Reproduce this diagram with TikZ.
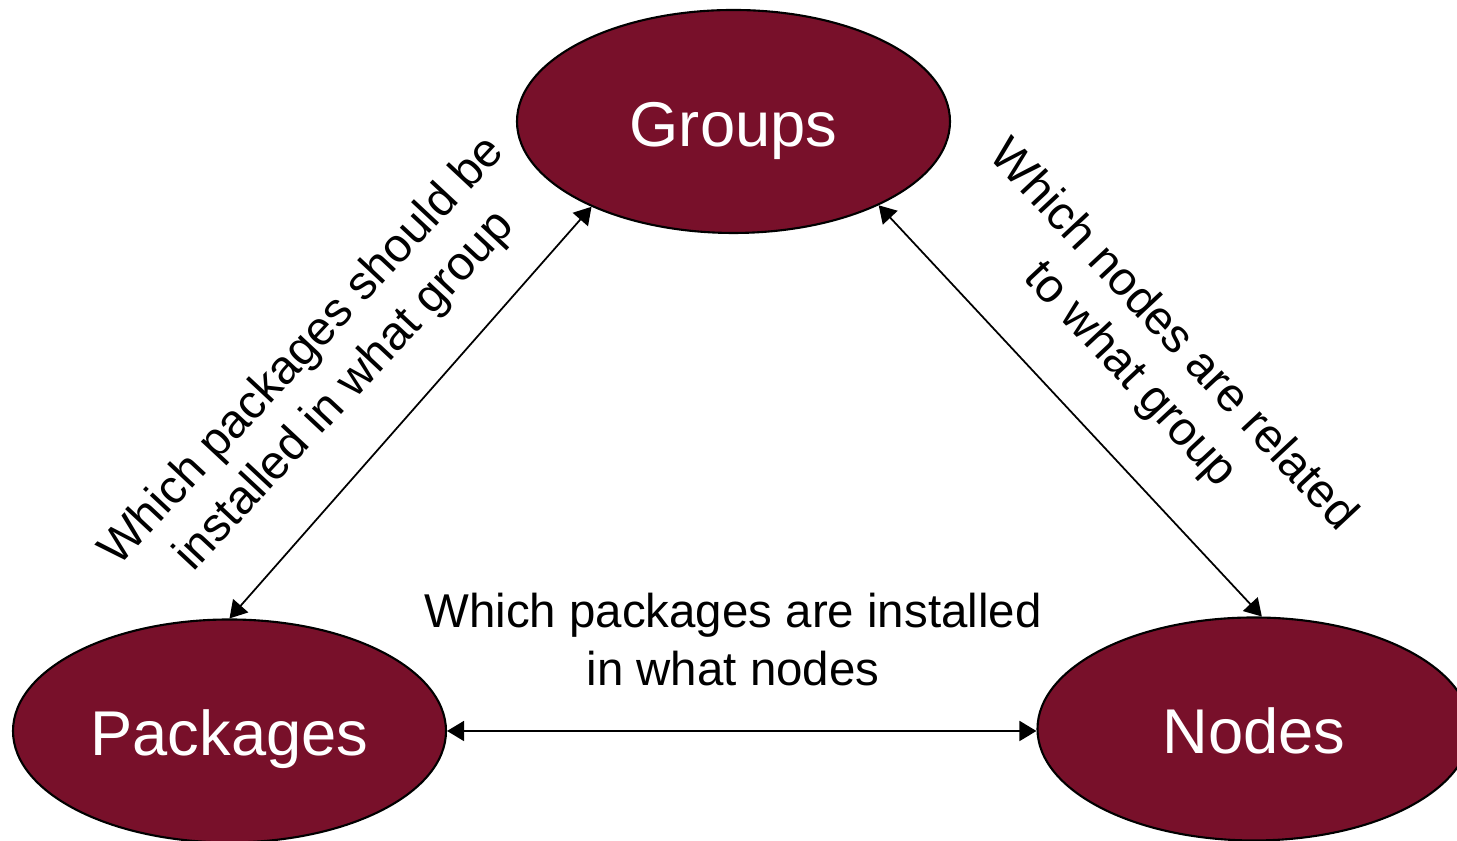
\documentclass[tikz,border=0pt]{standalone}
\usepackage{fontspec}
\setmainfont{Liberation Sans}
\usepackage{tikz}
\usetikzlibrary{arrows.meta,shapes.geometric}
\definecolor{wine}{RGB}{120,16,42}

\begin{document}
\begin{tikzpicture}[>={Triangle[length=0.17cm,width=0.2cm]},
		entity/.style={ellipse, draw, line width=0.6pt, fill=wine, text=white, minimum width=4.33cm, minimum height=2.23cm, text height=16pt, text depth=2pt, font=\fontsize{18}{22}\selectfont},
		relation/.style={align=center, font=\fontsize{13.5}{16.5}\selectfont},
		link/.style={<->, line width=0.5pt}]
			\useasboundingbox (0,0) rectangle (14.57,8.41);

			\node (Groups) [entity] at (7.335,7.195) {Groups};
			\node (Packages) [entity] at (2.295,1.1) {Packages};
			\node (Nodes) [entity] at (12.54,1.12) {Nodes};

			\draw[link] (Groups.211) -- (Packages.north);
			\draw[link] (Groups.330) -- (Nodes.86);
			\draw[link] (Packages.east) -- (Nodes.west |- Packages.east);

			\node (PkgGroup) [relation, rotate=47] at (3.24,4.69) {Which packages should be\\installed in what group};
			\node (NodeGroup) [relation, rotate=-47] at (11.51,4.85) {Which nodes are related\\to what group};
			\node (PkgNode) [relation] at (7.33,2.01) {Which packages are installed\\in what nodes};
		\end{tikzpicture}
\end{document}
